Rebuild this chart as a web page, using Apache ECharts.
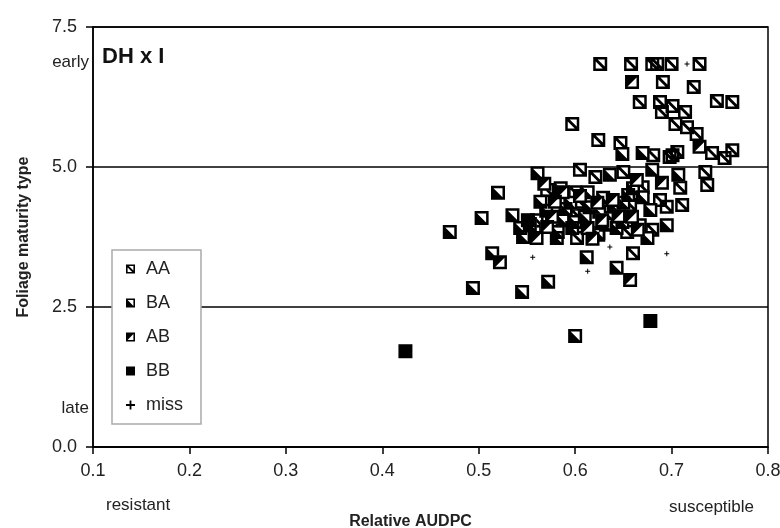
<!DOCTYPE html>
<html>
<head>
<meta charset="utf-8">
<script src="https://cdn.jsdelivr.net/npm/echarts@6/dist/echarts.min.js"></script>
<style>html,body{margin:0;padding:0;background:#fff}#c{width:780px;height:528px}</style>
</head>
<body>
<div id="c"></div>
<script>
const xTicks = [0.1, 0.2, 0.3, 0.4, 0.5, 0.6, 0.7, 0.8];
const yTicks = [0.0, 2.5, 5.0, 7.5];
const groups = ['AA', 'BA', 'AB', 'BB', 'miss'];

const dataAA = [
  [0.626,6.84],[0.658,6.84],[0.680,6.84],[0.685,6.84],[0.700,6.84],[0.729,6.84],
  [0.691,6.52],[0.723,6.43],
  [0.667,6.16],[0.688,6.16],[0.701,6.09],[0.747,6.18],[0.763,6.16],
  [0.690,5.98],[0.714,5.98],[0.597,5.77],[0.704,5.77],[0.716,5.71],[0.726,5.59],
  [0.624,5.48],[0.647,5.43],[0.681,5.21],[0.698,5.18],[0.706,5.27],
  [0.742,5.25],[0.755,5.16],[0.763,5.30],[0.701,5.21],
  [0.605,4.95],[0.621,4.82],[0.650,4.91],[0.670,4.64],[0.709,4.63],
  [0.571,4.59],[0.600,4.55],[0.605,4.38],[0.657,4.32],[0.688,4.41],[0.695,4.29],[0.711,4.32],
  [0.560,4.05],[0.602,4.14],[0.636,4.09],[0.558,3.84],[0.654,3.84],[0.680,3.88],
  [0.602,3.73],[0.660,3.46],[0.735,4.91],[0.737,4.68]
];
const dataBA = [
  [0.649,5.23],[0.670,5.25],[0.561,4.89],[0.636,4.86],[0.680,4.95],[0.707,4.86],
  [0.520,4.54],[0.613,4.55],[0.629,4.45],[0.564,4.38],[0.595,4.36],[0.650,4.36],[0.670,4.46],
  [0.503,4.09],[0.535,4.14],[0.587,4.05],[0.610,4.11],[0.649,4.02],[0.678,4.23],[0.667,3.96],
  [0.543,3.91],[0.582,3.84],[0.597,3.91],[0.624,3.82],[0.643,3.91],[0.695,3.96],
  [0.546,3.75],[0.581,3.73],[0.624,3.79],[0.675,3.73],
  [0.514,3.46],[0.612,3.39],[0.643,3.20],[0.572,2.95],[0.494,2.84],[0.545,2.77],
  [0.470,3.84],[0.600,1.98],
  [0.590,4.25],[0.615,4.28],[0.640,4.30],[0.600,4.02],[0.625,4.20],[0.655,4.50],
  [0.570,4.22],[0.632,3.97],[0.660,4.62],[0.585,4.62],[0.553,3.98]
];
const dataAB = [
  [0.659,6.52],[0.729,5.36],[0.664,4.77],[0.587,4.55],[0.639,4.41],[0.579,4.38],[0.623,4.36],
  [0.576,4.11],[0.628,4.05],[0.659,4.11],[0.571,3.93],[0.613,3.91],[0.665,3.88],
  [0.560,3.73],[0.522,3.30],[0.657,2.98],
  [0.605,4.48],[0.645,4.12],[0.618,3.72],[0.568,4.70],[0.690,4.72]
];
const dataBB = [[0.424,1.71],[0.678,2.25],[0.551,4.05]];
const dataMiss = [[0.716,6.84],[0.556,3.39],[0.636,3.57],[0.695,3.45],[0.613,3.14]];

const ring = 'M0,0L14,0L14,14L0,14Z M2.5,2.5L2.5,11.5L11.5,11.5L11.5,2.5Z ';
const symAA = 'path://' + ring + 'M2.5,2.5L4.5,2.5L11.5,9.5L11.5,11.5L9.5,11.5L2.5,4.5Z';
const symBA = 'path://' + ring + 'M2.5,2.5L11.5,11.5L2.5,11.5Z';
const symAB = 'path://' + ring + 'M2.5,2.5L11.5,2.5L2.5,11.5Z';
const symMiss = 'path://M2,0L3,0L3,2L5,2L5,3L3,3L3,5L2,5L2,3L0,3L0,2L2,2Z';

function bg(data) {
  return { type: 'scatter', name: '_bg', data: data, symbol: 'rect', symbolSize: 13,
    itemStyle: { color: '#fff', opacity: 1 }, silent: true, emphasis: { disabled: true } };
}
function fg(name, data, sym) {
  return { type: 'scatter', name: name, data: data, symbol: sym, symbolSize: 14,
    itemStyle: { color: '#000', opacity: 1 }, emphasis: { disabled: true } };
}

const FONT = '"Liberation Sans", Arial, sans-serif';
const chart = echarts.init(document.getElementById('c'), null, { renderer: 'canvas' });
chart.setOption({
  animation: false,
  backgroundColor: '#fff',
  textStyle: { fontFamily: FONT },
  title: { text: 'DH x I', left: 102, top: 46, padding: 0,
    textStyle: { fontSize: 22, fontWeight: 'bold', color: '#111', fontFamily: FONT } },
  grid: { left: 93, right: 12, top: 27, bottom: 81, containLabel: false, outerBoundsMode: 'none',
    show: true, borderColor: '#000', borderWidth: 1.5, backgroundColor: 'transparent' },
  legend: {
    data: groups, orient: 'vertical', left: 112, top: 250,
    padding: [10, 18, 10, 14], itemGap: 16, itemWidth: 9, itemHeight: 9,
    borderColor: '#aaa', borderWidth: 1.5, backgroundColor: '#fff',
    textStyle: { fontSize: 18, color: '#222', padding: [0, 0, 0, 6], fontFamily: FONT }
  },
  xAxis: {
    type: 'value', min: xTicks[0], max: xTicks[xTicks.length - 1], interval: 0.1,
    name: 'Relative AUDPC', nameLocation: 'middle', nameGap: 67,
    nameTextStyle: { fontSize: 16, fontWeight: 'bold', color: '#222', padding: [0, 40, 0, 0] },
    axisLine: { show: true, lineStyle: { color: '#000', width: 1.5 } },
    axisTick: { show: true, inside: false, length: 7, lineStyle: { color: '#000', width: 1.5 } },
    axisLabel: { fontSize: 18, color: '#222', margin: 15, formatter: v => v.toFixed(1) },
    splitLine: { show: false }
  },
  yAxis: {
    type: 'value', min: yTicks[0], max: yTicks[yTicks.length - 1], interval: 2.5,
    name: 'Foliage maturity type', nameLocation: 'middle', nameGap: 61,
    nameTextStyle: { fontSize: 16, fontWeight: 'bold', color: '#222' },
    axisLine: { show: true, lineStyle: { color: '#000', width: 1.5 } },
    axisTick: { show: true, inside: false, length: 7, lineStyle: { color: '#000', width: 1.5 } },
    axisLabel: { fontSize: 18, color: '#222', margin: 16, formatter: v => v.toFixed(1) },
    splitLine: { show: true, lineStyle: { color: '#000', width: 1.5 } }
  },
  graphic: [
    { type: 'text', right: 691, top: 54, style: { text: 'early', fill: '#222', font: '17px ' + FONT } },
    { type: 'text', right: 691, top: 400, style: { text: 'late', fill: '#222', font: '17px ' + FONT } },
    { type: 'text', left: 106, top: 497, style: { text: 'resistant', fill: '#222', font: '17px ' + FONT } },
    { type: 'text', left: 669, top: 499, style: { text: 'susceptible', fill: '#222', font: '17px ' + FONT } }
  ],
  series: [
    bg(dataAA), fg('AA', dataAA, symAA),
    bg(dataBA), fg('BA', dataBA, symBA),
    bg(dataAB), fg('AB', dataAB, symAB),
    { type: 'scatter', name: 'BB', data: dataBB, symbol: 'rect', symbolSize: 14, itemStyle: { color: '#000', opacity: 1 } },
    { type: 'scatter', name: 'miss', data: dataMiss, symbol: symMiss, symbolSize: 5, itemStyle: { color: '#000', opacity: 1 } }
  ]
});
</script>
</body>
</html>
